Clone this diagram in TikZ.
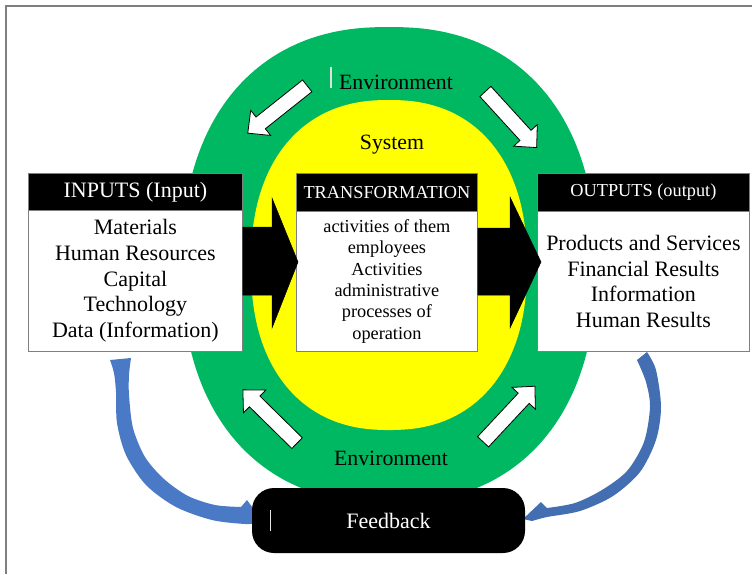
\documentclass[tikz,border=0pt]{standalone}
\usepackage{fontspec}
\setmainfont{Liberation Serif}
\definecolor{envgreen}{HTML}{00B862}
\definecolor{sysyellow}{HTML}{FFFF00}
\definecolor{fbblue}{HTML}{4A7AC6}
\definecolor{boxline}{HTML}{7F7F7F}
\begin{document}
\begin{tikzpicture}[x=1pt,y=-1pt,
  hdr/.style={draw=boxline, fill=black, text=white, line width=0.8, inner sep=0, anchor=north west},
  bodybox/.style={draw=boxline, fill=white, line width=0.8, inner sep=0, anchor=north west, align=center},
  bigtxt/.style={font=\fontsize{22}{25.6}\selectfont},
  smalltxt/.style={font=\fontsize{18.3}{21.3}\selectfont},
  lbl/.style={inner sep=0, font=\fontsize{21.8}{24}\selectfont},
  wharrow/.pic={\draw[fill=white, draw=black, line width=0.8, line join=miter]
     (-38,-7.5) -- (21.5,-7.5) -- (21.5,-16) -- (38,0) -- (21.5,16) -- (21.5,7.5) -- (-38,7.5) -- cycle;},
  blockarrow/.style={fill=black, draw=black, line width=0.5}
]
\useasboundingbox (0,0) rectangle (752,574);
\fill[white] (0,0) rectangle (752,574);
% frame
\draw[boxline, line width=1.5] (6,574) -- (6,6) -- (752,6);

% environment and system shapes (superellipses)
\fill[envgreen] plot[variable=\t, domain=1:359, samples=180]
  ({389+207*(cos(\t)/abs(cos(\t)))*exp(0.87*ln(abs(cos(\t))))},
   {265+238*(sin(\t)/abs(sin(\t)))*exp(0.87*ln(abs(sin(\t))))}) -- cycle;
\fill[sysyellow] plot[variable=\t, domain=1:359, samples=180]
  ({389+138*(cos(\t)/abs(cos(\t)))*exp(0.87*ln(abs(cos(\t))))},
   {265+165*(sin(\t)/abs(sin(\t)))*exp(0.87*ln(abs(sin(\t))))}) -- cycle;

% white environment arrows
\pic[rotate=218.5] at (277.5,109.5) {wharrow};
\pic[rotate=-47.6] at (511,119.5) {wharrow};
\pic[rotate=135.5] at (270,416.5) {wharrow};
\pic[rotate=47] at (509,414) {wharrow};

% labels
\draw[white!75!gray, line width=1.3] (331,67) -- (331,88);
\node[lbl] (envtop) at (396,82) {Environment};
\node[lbl] (sys) at (392,145) {System};
\node[lbl] (envbot) at (391,458) {Environment};

% boxes
\node[hdr, minimum width=214, minimum height=37, bigtxt] (inh) at (28,173) {INPUTS (Input)};
\node[bodybox, minimum width=214, minimum height=141, bigtxt] (inb) at (28,210)
  {Materials\\Human Resources\\Capital\\Technology\\Data (Information)};
\node[hdr, minimum width=181, minimum height=38, smalltxt] (trh) at (296,173) {TRANSFORMATION};
\node[bodybox, minimum width=181, minimum height=140, smalltxt] (trb) at (296,211)
  {activities of them\\employees\\Activities\\administrative\\processes of\\operation};
\node[hdr, minimum width=212, minimum height=38, smalltxt] (outh) at (537,173) {OUTPUTS (output)};
\node[bodybox, minimum width=212, minimum height=140, bigtxt] (outb) at (537,211)
  {Products and Services\\Financial Results\\Information\\Human Results};

% black transformation arrows
\fill[blockarrow] (inb.north east |- 0,227) -- (272,227) -- (272,198) -- (298,262) -- (272,328) -- (272,295) -- (inb.north east |- 0,295) -- cycle;
\fill[blockarrow] (trb.north east |- 0,228) -- (510,228) -- (510,197) -- (541,262) -- (510,328) -- (510,295) -- (trb.north east |- 0,295) -- cycle;

% blue feedback arrows
\fill[fbblue] plot[smooth, tension=0.5] coordinates {(110,360) (114,373) (116,392) (117,423) (126,455) (146,485) (176,507) (212,520) (245,524) (256,523)}
  -- (258,515) -- (247,500) --
  plot[smooth, tension=0.5] coordinates {(241,507) (215,505) (188,496) (164,479) (145,457) (133,428) (129,395) (129,375) (131,358)} -- cycle;
\fill[fbblue!90!black] plot[smooth, tension=0.5] coordinates {(647,352) (656,370) (661,407) (656,440) (640,472) (613,496) (580,511) (547,517) (532,521)}
  -- (523,519) -- (541,502) --
  plot[smooth, tension=0.5] coordinates {(547,508) (575,503) (602,490) (627,471) (644,442) (650,407) (646,382) (637,360)} -- cycle;

% feedback
\node[fill=black, rounded corners=22, minimum width=273, minimum height=65, inner sep=0,
  text=white, font=\fontsize{22}{24}\selectfont] (fb) at (388.5,520.5) {Feedback};
\draw[white!80!gray, line width=1] (270,510) -- (270,531);
\end{tikzpicture}
\end{document}
